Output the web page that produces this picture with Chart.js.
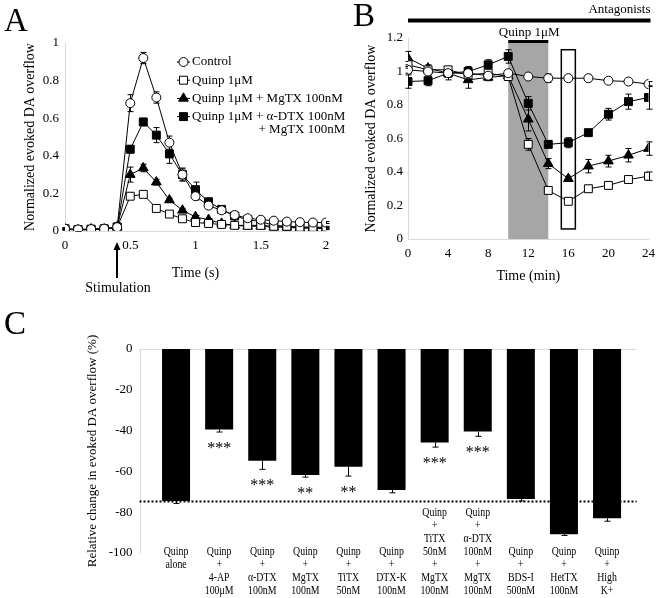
<!DOCTYPE html>
<html>
<head>
<meta charset="utf-8">
<script src="https://cdn.jsdelivr.net/npm/chart.js@4.4.0/dist/chart.umd.min.js"></script>
<style>
  body { margin: 0; background: #fff; }
  #wrap { position: relative; width: 662px; height: 598px; overflow: hidden; background: #fff; }
  .box { position: absolute; }
  .letter { position: absolute; font: 33px "Liberation Serif", serif; line-height: 1; color: #000; }
</style>
</head>
<body>
<div id="wrap">
  <div class="box" style="left:0;top:0;width:346px;height:300px"><canvas id="chartA"></canvas></div>
  <div class="box" style="left:346px;top:0;width:316px;height:300px"><canvas id="chartB"></canvas></div>
  <div class="box" style="left:0;top:300px;width:662px;height:298px"><canvas id="chartC"></canvas></div>
  <div class="letter" style="left:4px;top:4px">A</div>
  <div class="letter" style="left:353px;top:-1px">B</div>
  <div class="letter" style="left:4px;top:307px">C</div>
</div>
<script>
// ---- Panel A : time course of a single stimulation ----
const timeA = [0, 0.1, 0.2, 0.3, 0.4, 0.5, 0.6, 0.7, 0.8, 0.9, 1.0, 1.1, 1.2, 1.3, 1.4, 1.5, 1.6, 1.7, 1.8, 1.9, 2.0];
const controlA = [0.012, 0.008, 0.01, 0.012, 0.02, 0.68, 0.92, 0.71, 0.47, 0.30, 0.185, 0.135, 0.11, 0.085, 0.068, 0.06, 0.055, 0.05, 0.047, 0.045, 0.045];
const controlErrA = [0.005, 0.005, 0.005, 0.005, 0.005, 0.045, 0.03, 0.03, 0.035, 0.03, 0.02, 0.015, 0.01, 0.01, 0.01, 0.008, 0.006, 0.006, 0.005, 0.005, 0.005];
const quinpA = [0.01, 0.008, 0.01, 0.012, 0.02, 0.185, 0.195, 0.12, 0.09, 0.065, 0.045, 0.04, 0.035, 0.03, 0.03, 0.03, 0.025, 0.025, 0.02, 0.02, 0.02];
const quinpErrA = [0.005, 0.005, 0.005, 0.005, 0.005, 0.012, 0.012, 0.01, 0.008, 0.006, 0.005, 0.005, 0.005, 0.005, 0.005, 0.005, 0.005, 0.005, 0.005, 0.005, 0.005];
const mgtxA = [0.01, 0.005, 0.01, 0.01, 0.022, 0.30, 0.335, 0.26, 0.165, 0.11, 0.075, 0.06, 0.04, 0.03, 0.025, 0.025, 0.02, 0.02, 0.015, 0.015, 0.012];
const mgtxErrA = [0.005, 0.005, 0.005, 0.005, 0.005, 0.04, 0.02, 0.015, 0.01, 0.01, 0.008, 0.006, 0.005, 0.005, 0.005, 0.005, 0.005, 0.005, 0.005, 0.005, 0.005];
const dtxMgtxA = [0.012, 0.005, 0.008, 0.01, 0.022, 0.435, 0.58, 0.51, 0.41, 0.30, 0.22, 0.155, 0.115, 0.08, 0.06, 0.05, 0.03, 0.025, 0.02, 0.02, 0.015];
const dtxMgtxErrA = [0.005, 0.005, 0.005, 0.005, 0.005, 0.02, 0.02, 0.04, 0.05, 0.035, 0.04, 0.02, 0.01, 0.01, 0.01, 0.008, 0.006, 0.006, 0.005, 0.005, 0.005];
const xTicksA = [0, 0.5, 1, 1.5, 2];
const yTicksA = [0, 0.2, 0.4, 0.6, 0.8, 1];
const stimTime = 0.4;

// ---- Panel B : time course of the experiment (min) ----
const timeB = [0, 2, 4, 6, 8, 10, 12, 14, 16, 18, 20, 22, 24];
const controlB = [1.01, 1.0, 0.99, 0.99, 0.975, 0.99, 0.97, 0.96, 0.96, 0.96, 0.945, 0.94, 0.925];
const controlErrB = [0.02, 0.02, 0.02, 0.02, 0.02, 0.015, 0.01, 0.025, 0.015, 0.02, 0.015, 0.015, 0.015];
const quinpB = [1.04, 1.01, 1.01, 0.98, 0.99, 0.97, 0.565, 0.29, 0.225, 0.30, 0.32, 0.355, 0.375];
const quinpErrB = [0.02, 0.02, 0.02, 0.03, 0.02, 0.02, 0.035, 0.02, 0.015, 0.02, 0.02, 0.02, 0.025];
const mgtxB = [1.08, 1.02, 0.99, 0.95, 0.965, 0.975, 0.715, 0.45, 0.36, 0.435, 0.465, 0.50, 0.54];
const mgtxErrB = [0.04, 0.02, 0.04, 0.05, 0.02, 0.02, 0.07, 0.03, 0.015, 0.04, 0.035, 0.04, 0.04];
const dtxMgtxB = [0.94, 0.945, 0.99, 1.0, 1.04, 1.09, 0.81, 0.565, 0.575, 0.635, 0.745, 0.82, 0.845];
const dtxMgtxErrB = [0.04, 0.03, 0.02, 0.03, 0.03, 0.04, 0.04, 0.02, 0.03, 0.015, 0.035, 0.045, 0.07];
const xTicksB = [0, 4, 8, 12, 16, 20, 24];
const yTicksB = [0, 0.2, 0.4, 0.6, 0.8, 1, 1.2];
const quinpPeriod = [10, 14];      // min, grey band
const antagonistPeriod = [0, 24];  // min, black bar on top
const boxWindow = [15.3, 16.7];    // min, open rectangle
const boxRange = [0.06, 1.13];     // y range of the open rectangle
const quinpBarLevel = 1.17;

// ---- Panel C : relative change ----
const cLabels = [
  ['Quinp', 'alone'],
  ['Quinp', '+', '4-AP', '100μM'],
  ['Quinp', '+', 'α-DTX', '100nM'],
  ['Quinp', '+', 'MgTX', '100nM'],
  ['Quinp', '+', 'TiTX', '50nM'],
  ['Quinp', '+', 'DTX-K', '100nM'],
  ['Quinp', '+', 'TiTX', '50nM', '+', 'MgTX', '100nM'],
  ['Quinp', '+', 'α-DTX', '100nM', '+', 'MgTX', '100nM'],
  ['Quinp', '+', 'BDS-I', '500nM'],
  ['Quinp', '+', 'HetTX', '100nM'],
  ['Quinp', '+', 'High', 'K+']
];
const cValues = [-74.5, -39.4, -54.8, -61.8, -57.7, -69.1, -45.8, -40.5, -73.5, -90.8, -83.0];
const cErrors = [1.2, 1.3, 4.2, 1.0, 4.6, 1.4, 2.3, 2.3, 1.0, 0.6, 1.4];
const cStars = ['', '***', '***', '**', '**', '', '***', '***', '', '', ''];
const yTicksC = [0, -20, -40, -60, -80, -100];
const cReference = -74.6;

const seriesLabels = ['Control', 'Quinp 1μM', 'Quinp 1μM + MgTX 100nM', ['Quinp 1μM + α-DTX 100nM', '+ MgTX 100nM']];

const SERIF = '"Liberation Serif", "Times New Roman", serif';
const AXIS_GREY = '#d9d9d9';

Chart.defaults.font.family = SERIF;
Chart.defaults.font.size = 13;
Chart.defaults.color = '#000';
Chart.defaults.animation = false;

// marker look of the four series (open circle, open square, filled triangle, filled square)
const markers = [
  { pointStyle: 'circle', pointRadius: 4.5, pointBackgroundColor: '#fff' },
  { pointStyle: 'rect', pointRadius: 5.6, pointBackgroundColor: '#fff' },
  { pointStyle: 'triangle', pointRadius: 5.6, pointBackgroundColor: '#000' },
  { pointStyle: 'rect', pointRadius: 5.6, pointBackgroundColor: '#000' }
];

function makeDataset(i, xs, ys, errs) {
  return Object.assign({
    label: [].concat(seriesLabels[i]).join(' '),
    legendLines: [].concat(seriesLabels[i]),
    data: ys.map((v, k) => ({ x: xs[k], y: v })),
    errors: errs,
    borderColor: '#000',
    borderWidth: 1,
    pointBorderColor: '#000',
    pointBorderWidth: 1,
    pointHoverRadius: 5,
    tension: 0
  }, markers[i]);
}

function drawMarker(ctx, m, x, y) {
  const r = m.pointRadius;
  ctx.beginPath();
  if (m.pointStyle === 'circle') {
    ctx.arc(x, y, r, 0, Math.PI * 2);
  } else if (m.pointStyle === 'rect') {
    const s = r * Math.SQRT1_2;
    ctx.rect(x - s, y - s, 2 * s, 2 * s);
  } else {
    ctx.moveTo(x, y - r);
    ctx.lineTo(x + r * 0.866, y + r * 0.5);
    ctx.lineTo(x - r * 0.866, y + r * 0.5);
    ctx.closePath();
  }
  ctx.fillStyle = m.pointBackgroundColor;
  ctx.fill();
  ctx.strokeStyle = '#000';
  ctx.lineWidth = 1;
  ctx.stroke();
}

// error bars: two-sided for the line charts, one-sided (away from zero) for the bars
function drawErrorBars(chart, capHalf, oneSided) {
  const { ctx } = chart;
  const yScale = chart.scales.y;
  ctx.save();
  ctx.strokeStyle = '#000';
  ctx.lineWidth = 1;
  chart.data.datasets.forEach((ds, di) => {
    if (!ds.errors) return;
    chart.getDatasetMeta(di).data.forEach((el, i) => {
      const err = ds.errors[i];
      if (!err) return;
      const raw = ds.data[i];
      const v = typeof raw === 'object' ? raw.y : raw;
      const x = Math.round(el.x) + 0.5;
      const hi = yScale.getPixelForValue(oneSided ? v : v + err);
      const lo = yScale.getPixelForValue(v - err);
      ctx.beginPath();
      ctx.moveTo(x, hi); ctx.lineTo(x, lo);
      ctx.moveTo(x - capHalf, lo); ctx.lineTo(x + capHalf, lo);
      if (!oneSided) { ctx.moveTo(x - capHalf, hi); ctx.lineTo(x + capHalf, hi); }
      ctx.stroke();
    });
  });
  ctx.restore();
}

function lineAxes(xTicks, yTicks, xMax, yMax, yWidth, xHeight, yTitle, xTitle, yTitlePad, xTitlePad, yTickPad) {
  return {
    x: {
      type: 'linear', min: 0, max: xMax,
      afterBuildTicks: s => { s.ticks = xTicks.map(v => ({ value: v })); },
      afterFit: s => { s.height = xHeight; },
      grid: { display: false, drawTicks: false },
      border: { color: AXIS_GREY },
      ticks: { padding: 7, font: { size: 13 }, callback: v => String(v) },
      title: { display: true, text: xTitle, font: { size: 14 }, padding: { top: 0, bottom: xTitlePad } }
    },
    y: {
      min: 0, max: yMax,
      afterBuildTicks: s => { s.ticks = yTicks.map(v => ({ value: v })); },
      afterFit: s => { s.width = yWidth; },
      grid: { display: false, drawTicks: false },
      border: { color: AXIS_GREY },
      ticks: { padding: yTickPad, font: { size: 13 }, callback: v => String(v) },
      title: { display: true, text: yTitle, font: { size: 14 }, padding: { top: yTitlePad, bottom: 0 } }
    }
  };
}

document.addEventListener('DOMContentLoaded', () => {

  // ---------- Panel A ----------
  const pluginA = {
    id: 'panelA',
    beforeDatasetsDraw(chart) { drawErrorBars(chart, 3, false); },
    afterDraw(chart) {
      const { ctx } = chart;
      // legend
      let y = 62;
      chart.data.datasets.forEach((ds, i) => {
        ctx.save();
        ctx.strokeStyle = '#000';
        ctx.lineWidth = 1;
        ctx.beginPath(); ctx.moveTo(177, y); ctx.lineTo(190, y); ctx.stroke();
        drawMarker(ctx, markers[i], 183.5, y);
        ctx.font = '13px ' + SERIF;
        ctx.fillStyle = '#000';
        ctx.textBaseline = 'middle';
        ctx.textAlign = 'left';
        ctx.fillText(ds.legendLines[0], 192, y);
        if (ds.legendLines[1]) {
          const w = ctx.measureText(ds.legendLines[0]).width;
          ctx.textAlign = 'right';
          ctx.fillText(ds.legendLines[1], 192 + w, y + 12.7);
        }
        ctx.restore();
        y += 18.2;
      });
      // stimulation arrow
      const x = Math.round(chart.scales.x.getPixelForValue(stimTime));
      ctx.save();
      ctx.fillStyle = '#000';
      ctx.strokeStyle = '#000';
      ctx.lineWidth = 2;
      ctx.beginPath(); ctx.moveTo(x, 249); ctx.lineTo(x, 278); ctx.stroke();
      ctx.beginPath(); ctx.moveTo(x, 242); ctx.lineTo(x + 3.5, 250); ctx.lineTo(x - 3.5, 250); ctx.closePath(); ctx.fill();
      ctx.font = '14px ' + SERIF;
      ctx.textAlign = 'center';
      ctx.textBaseline = 'middle';
      ctx.fillText('Stimulation', x + 1, 288);
      ctx.restore();
    }
  };

  new Chart(document.getElementById('chartA'), {
    type: 'line',
    data: {
      datasets: [
        makeDataset(0, timeA, controlA, controlErrA),
        makeDataset(1, timeA, quinpA, quinpErrA),
        makeDataset(2, timeA, mgtxA, mgtxErrA),
        makeDataset(3, timeA, dtxMgtxA, dtxMgtxErrA)
      ]
    },
    options: {
      responsive: true,
      maintainAspectRatio: false,
      layout: { padding: { left: 0, top: 43, right: 20, bottom: 0 } },
      plugins: { legend: { display: false }, tooltip: { enabled: false } },
      scales: lineAxes(xTicksA, yTicksA, 2, 1, 65, 69, 'Normalized evoked DA overflow', 'Time (s)', 21.6, 18.6, 6)
    },
    plugins: [pluginA]
  });

  // ---------- Panel B ----------
  const pluginB = {
    id: 'panelB',
    beforeDatasetsDraw(chart) {
      const { ctx } = chart;
      const xs = chart.scales.x, ys = chart.scales.y;
      ctx.save();
      // grey band while quinpirole is applied
      const gx1 = xs.getPixelForValue(quinpPeriod[0]), gx2 = xs.getPixelForValue(quinpPeriod[1]);
      const gTop = ys.getPixelForValue(quinpBarLevel);
      ctx.fillStyle = '#a6a6a6';
      ctx.fillRect(gx1, gTop, gx2 - gx1, ys.getPixelForValue(0) - gTop);
      // open rectangle around the 16 min point
      const bx1 = xs.getPixelForValue(boxWindow[0]), bx2 = xs.getPixelForValue(boxWindow[1]);
      const by1 = ys.getPixelForValue(boxRange[1]), by2 = ys.getPixelForValue(boxRange[0]);
      ctx.strokeStyle = '#000';
      ctx.lineWidth = 1.5;
      ctx.strokeRect(bx1, by1, bx2 - bx1, by2 - by1);
      ctx.restore();
      drawErrorBars(chart, 3, false);
    },
    afterDraw(chart) {
      const { ctx } = chart;
      const xs = chart.scales.x, ys = chart.scales.y;
      ctx.save();
      ctx.fillStyle = '#000';
      ctx.font = '13px ' + SERIF;
      ctx.textBaseline = 'middle';
      // quinpirole bar + label
      const qx1 = xs.getPixelForValue(quinpPeriod[0]), qx2 = xs.getPixelForValue(quinpPeriod[1]);
      const qy = ys.getPixelForValue(quinpBarLevel);
      ctx.fillRect(qx1, qy - 3, qx2 - qx1, 3);
      ctx.textAlign = 'center';
      ctx.fillText('Quinp 1μM', (qx1 + qx2) / 2 + 1, qy - 10);
      // antagonists bar + label
      const ax1 = xs.getPixelForValue(antagonistPeriod[0]), ax2 = xs.getPixelForValue(antagonistPeriod[1]);
      ctx.fillRect(ax1, 18.5, ax2 - ax1 + 2, 4);
      ctx.textAlign = 'right';
      ctx.fillText('Antagonists', ax2 + 2, 10);
      ctx.restore();
    }
  };

  new Chart(document.getElementById('chartB'), {
    type: 'line',
    data: {
      datasets: [
        makeDataset(0, timeB, controlB, controlErrB),
        makeDataset(1, timeB, quinpB, quinpErrB),
        makeDataset(2, timeB, mgtxB, mgtxErrB),
        makeDataset(3, timeB, dtxMgtxB, dtxMgtxErrB)
      ]
    },
    options: {
      responsive: true,
      maintainAspectRatio: false,
      layout: { padding: { left: 0, top: 38, right: 9, bottom: 0 } },
      plugins: { legend: { display: false }, tooltip: { enabled: false } },
      scales: lineAxes(xTicksB, yTicksB, 24, 1.2, 62, 61, 'Normalized evoked DA overflow', 'Time (min)', 16.6, 15.6, 5)
    },
    plugins: [pluginB]
  });

  // ---------- Panel C ----------
  const pluginC = {
    id: 'panelC',
    beforeDatasetsDraw(chart) {
      const { ctx, chartArea } = chart;
      const ys = chart.scales.y;
      const left = chartArea.left - 15, right = chartArea.right + 8;
      ctx.save();
      ctx.strokeStyle = AXIS_GREY;
      ctx.lineWidth = 1;
      ctx.beginPath();
      ctx.moveTo(left, Math.round(ys.getPixelForValue(0)) + 0.5);
      ctx.lineTo(right, Math.round(ys.getPixelForValue(0)) + 0.5);
      ctx.moveTo(Math.round(left) + 0.5, ys.getPixelForValue(0));
      ctx.lineTo(Math.round(left) + 0.5, ys.getPixelForValue(-100));
      ctx.stroke();
      ctx.restore();
    },
    afterDatasetsDraw(chart) {
      const { ctx, chartArea } = chart;
      const xs = chart.scales.x, ys = chart.scales.y;
      drawErrorBars(chart, 3, true);
      ctx.save();
      // dotted reference line at the "Quinp alone" level
      const ry = Math.round(ys.getPixelForValue(cReference)) + 0.5;
      ctx.strokeStyle = '#000';
      ctx.lineWidth = 2;
      ctx.setLineDash([2, 2]);
      ctx.beginPath(); ctx.moveTo(chartArea.left - 15, ry); ctx.lineTo(chartArea.right + 8, ry); ctx.stroke();
      ctx.setLineDash([]);
      // significance stars
      ctx.fillStyle = '#000';
      ctx.font = '16px ' + SERIF;
      ctx.textAlign = 'center';
      ctx.textBaseline = 'alphabetic';
      cStars.forEach((s, i) => {
        if (!s) return;
        const x = xs.getPixelForValue(i);
        const y = ys.getPixelForValue(cValues[i] - cErrors[i]) + 13;
        ctx.fillText(s, x, y + 7.5);
      });
      // category labels, bottom lines aligned
      ctx.font = '12px ' + SERIF;
      ctx.textBaseline = 'middle';
      cLabels.forEach((lines, i) => {
        const x = xs.getPixelForValue(i);
        const shift = Math.max(0, lines.length - 4);
        lines.forEach((t, k) => {
          const y = chartArea.bottom - 1 + (k - shift) * 13.1;
          ctx.save();
          ctx.translate(x, y);
          ctx.scale(0.82, 1);
          ctx.fillText(t, 0, 0);
          ctx.restore();
        });
      });
      // y axis title
      ctx.font = '13px ' + SERIF;
      ctx.translate(93, (chartArea.top + chartArea.bottom) / 2);
      ctx.rotate(-Math.PI / 2);
      ctx.fillText('Relative change in evoked DA overflow (%)', 0, 0);
      ctx.restore();
    }
  };

  new Chart(document.getElementById('chartC'), {
    type: 'bar',
    data: {
      labels: cLabels,
      datasets: [{
        label: 'Relative change',
        data: cValues,
        errors: cErrors,
        backgroundColor: '#000',
        borderWidth: 0,
        categoryPercentage: 1,
        barPercentage: 0.65
      }]
    },
    options: {
      responsive: true,
      maintainAspectRatio: false,
      layout: { padding: { left: 0, top: 49, right: 33.4, bottom: 45 } },
      plugins: { legend: { display: false }, tooltip: { enabled: false } },
      scales: {
        x: { display: false },
        y: {
          min: -100, max: 0,
          afterBuildTicks: s => { s.ticks = yTicksC.map(v => ({ value: v })); },
          afterFit: s => { s.width = 154.5; },
          grid: { display: false, drawTicks: false },
          border: { display: false },
          ticks: { padding: 22, font: { size: 13 }, callback: v => String(v) }
        }
      }
    },
    plugins: [pluginC]
  });
});
</script>
</body>
</html>
